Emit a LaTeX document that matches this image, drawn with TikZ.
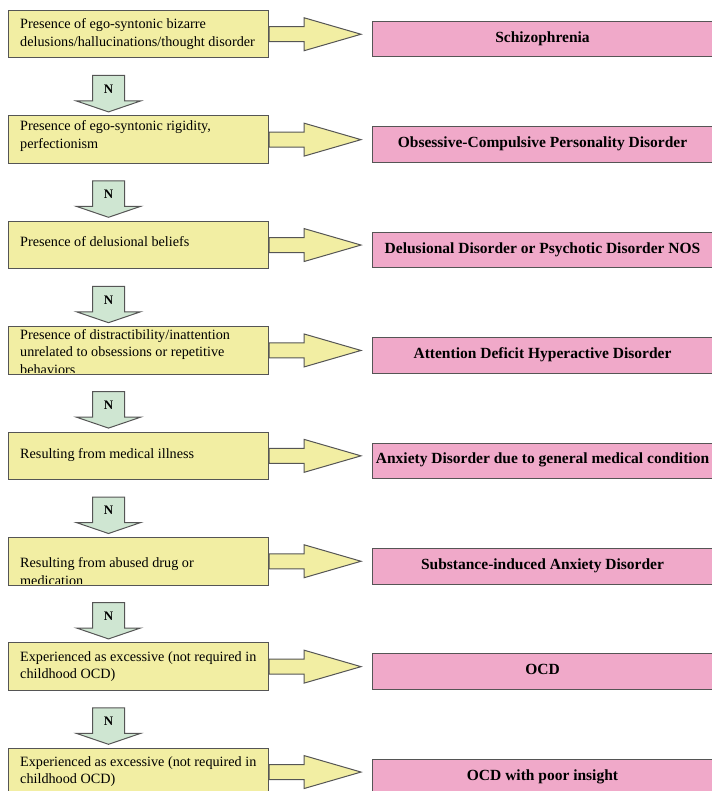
\documentclass[tikz,border=0pt]{standalone}
\usepackage{fontspec}
\setmainfont{Liberation Serif}
\usetikzlibrary{calc}
\definecolor{ylw}{HTML}{F2EEA3}
\definecolor{pnk}{HTML}{F0A9C9}
\definecolor{grn}{HTML}{CFE6D2}
\definecolor{edgegray}{HTML}{555555}
\tikzset{
  ybox/.style={draw=edgegray, fill=ylw, line width=1pt, minimum width=260pt, minimum height=47.5pt, inner sep=0pt, anchor=north west},
  pbox/.style={draw=edgegray, fill=pnk, line width=1pt, minimum width=340pt, minimum height=35.5pt, inner sep=0pt, anchor=south west,
    font=\fontsize{15.5}{18}\selectfont\bfseries, text height=8pt, text depth=2pt},
  ytext/.style={anchor=base west, inner sep=0pt, align=left, font=\fontsize{14.2}{17.6}\selectfont},
  yarrow/.style={draw=edgegray, fill=ylw, line width=1pt, line join=miter},
  garrow/.style={draw=edgegray, fill=grn, line width=1pt, line join=miter},
  nlabel/.style={inner sep=0pt, font=\fontsize{13}{15}\selectfont\bfseries}
}
\begin{document}
\begin{tikzpicture}[x=1pt,y=-1pt]
\useasboundingbox (0,0) rectangle (711,791);
% boxes
\foreach \i/\txt in {0/Schizophrenia,
                     1/Obsessive-Compulsive Personality Disorder,
                     2/Delusional Disorder or Psychotic Disorder NOS,
                     3/Attention Deficit Hyperactive Disorder,
                     4/Anxiety Disorder due to general medical condition,
                     5/Substance-induced Anxiety Disorder,
                     6/OCD,
                     7/OCD with poor insight}{
  \pgfmathsetmacro\T{10+105.4*\i}
  \node[ybox] (q\i) at (8,\T) {};
  \node[pbox] (d\i) at (372,\T+47.5) {\txt};
}
% yellow texts (clipped to their boxes); y = baseline of the last line
\foreach \i/\b/\txt in {0/46.1/{Presence of ego-syntonic bizarre\\delusions/hallucinations/thought disorder},
                        1/148.6/{Presence of ego-syntonic rigidity,\\perfectionism},
                        2/246.5/{Presence of delusional beliefs},
                        3/374.2/{Presence of distractibility/inattention\\unrelated to obsessions or repetitive\\behaviors},
                        4/458/{Resulting from medical illness},
                        5/585/{Resulting from abused drug or\\medication},
                        6/678.6/{Experienced as excessive (not required in\\childhood OCD)},
                        7/783.6/{Experienced as excessive (not required in\\childhood OCD)}}{
  \begin{scope}
    \clip ($(q\i.south west)+(0.5,-2)$) rectangle ($(q\i.north east)+(-0.5,0.5)$);
    \node[ytext] (t\i) at (20,\b) {\txt};
  \end{scope}
}
% right block arrows
\foreach \i in {0,...,7}{
  \draw[yarrow] ($(q\i.east)+(0,-7.5)$) -- ++(35,0) -- ++(0,-9)
     -- ($(q\i.east)+(92,0)$) -- ($(q\i.east)+(35,16.5)$) -- ++(0,-9)
     -- ($(q\i.east)+(0,7.5)$) -- cycle;
}
% N down arrows
\foreach \i in {0,...,6}{
  \pgfmathtruncatemacro\j{\i+1}
  \draw[garrow] ($(q\i.south)+(-46,17)$) -- ($(q\i.south)+(-14,17)$)
     -- ($(q\i.south)+(-14,42.5)$) -- ($(q\i.south)+(2,42.5)$)
     -- ($(q\j.north)+(-30,-3.5)$)
     -- ($(q\i.south)+(-62,42.5)$) -- ($(q\i.south)+(-46,42.5)$) -- cycle;
  \node[nlabel] (n\i) at ($(q\i.south)+(-30,30.5)$) {N};
}
\end{tikzpicture}
\end{document}
